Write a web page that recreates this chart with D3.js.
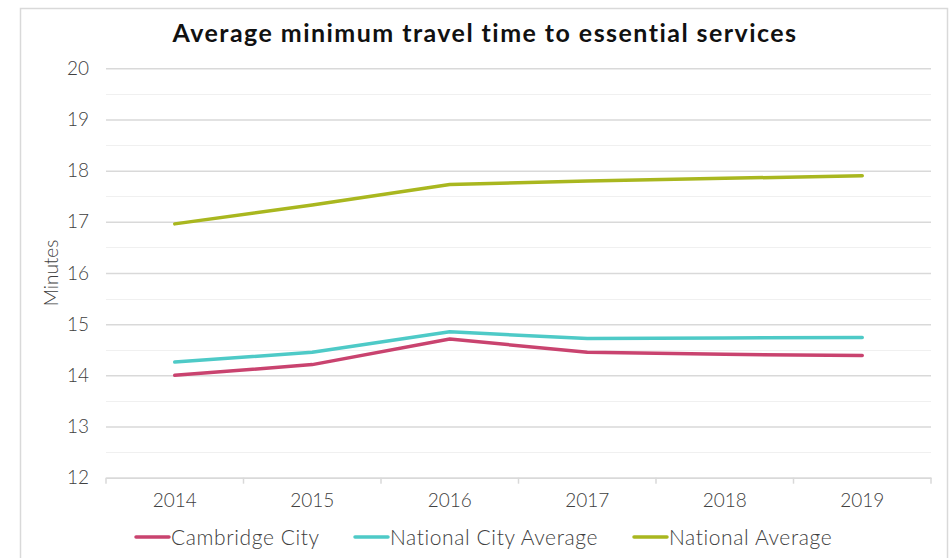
<!DOCTYPE html>
<html><head><meta charset="utf-8">
<script src="https://cdn.jsdelivr.net/npm/d3@7"></script>
<style>
body{margin:0;background:#fff;}
svg{display:block;font-family:"Lato","Open Sans",sans-serif;}
.thin{font-family:"Lato Light","Lato","Open Sans",sans-serif;font-weight:300;}
</style></head>
<body><svg id="c" width="950" height="558"></svg>
<script>
const title = "Average minimum travel time to essential services";
const yAxisLabel = "Minutes";
const years = ["2014","2015","2016","2017","2018","2019"];
const yTicks = [12,13,14,15,16,17,18,19,20];
const seriesNames = ["Cambridge City","National City Average","National Average"];
const seriesColors = ["#C9436F","#4ECAC7","#A9B71F"];
const cambridgeCity = [14.00,14.21,14.71,14.45,14.41,14.39];
const nationalCityAverage = [14.26,14.45,14.85,14.72,14.73,14.74];
const nationalAverage = [16.96,17.33,17.73,17.80,17.85,17.90];
const seriesValues = [cambridgeCity, nationalCityAverage, nationalAverage];

const svg = d3.select("#c");
svg.append("rect").attr("x",20.5).attr("y",8.5).attr("width",927).attr("height",560)
  .attr("fill","#fff").attr("stroke","#d9d9d9").attr("stroke-width",1.5);

const L=106, R=931, T=68.3, B=477.7;
const x = d3.scaleBand().domain(years).range([L,R]);
const y = d3.scaleLinear().domain([12,20]).range([B,T]);

const minor = d3.range(12.5,20,1);
svg.append("g").selectAll("line").data(minor).join("line")
  .attr("x1",L).attr("x2",R).attr("y1",d=>Math.round(y(d))+0.5).attr("y2",d=>Math.round(y(d))+0.5)
  .attr("stroke","#f0f0f0").attr("stroke-width",1.2);

const yAxis = d3.axisLeft(y).tickValues(yTicks).tickSize(-(R-L)).tickPadding(17).tickFormat(d3.format("d"));
const gy = svg.append("g").attr("transform",`translate(${L},0)`).call(yAxis);
gy.select(".domain").remove();
gy.selectAll(".tick line").attr("stroke","#d9d9d9").attr("stroke-width",1.5);
gy.selectAll(".tick text").attr("class","thin").attr("fill","#404040").style("font-size","19px");

const xAxis = d3.axisBottom(x).tickSize(0).tickPadding(16);
const gx = svg.append("g").attr("transform",`translate(0,${B})`).call(xAxis);
gx.select(".domain").attr("stroke","#d9d9d9").attr("stroke-width",1.5);
gx.selectAll(".tick text").attr("class","thin").attr("fill","#404040").style("font-size","19px");
const bounds = years.map(d=>x(d)).concat([R]);
gx.append("g").selectAll("line").data(bounds).join("line")
  .attr("x1",d=>d).attr("x2",d=>d).attr("y1",0).attr("y2",6)
  .attr("stroke","#d9d9d9").attr("stroke-width",1.5);

const line = d3.line().x((d,i)=>x(years[i])+x.bandwidth()/2).y(d=>y(d));
svg.append("g").selectAll("path").data(seriesValues).join("path")
  .attr("d",d=>line(d)).attr("fill","none")
  .attr("stroke",(d,i)=>seriesColors[i]).attr("stroke-width",3.5)
  .attr("stroke-linecap","round").attr("stroke-linejoin","round");

svg.append("text").attr("x",485).attr("y",42).attr("text-anchor","middle")
  .style("font-size","25px").style("font-weight","700").style("letter-spacing","1.45px").attr("fill","#111")
  .text(title);

svg.append("text").attr("class","thin").attr("transform","translate(58,273) rotate(-90)").attr("text-anchor","middle")
  .style("font-size","19px").attr("fill","#404040").text(yAxisLabel);

const legX = [136,355,634];
const lg = svg.append("g").selectAll("g").data(seriesNames).join("g")
  .attr("transform",(d,i)=>`translate(${legX[i]},537)`);
lg.append("line").attr("x1",0).attr("x2",33).attr("y1",0).attr("y2",0)
  .attr("stroke",(d,i)=>seriesColors[i]).attr("stroke-width",3.5).attr("stroke-linecap","round");
lg.append("text").attr("class","thin").attr("x",35).attr("y",7.5).style("font-size","21px").style("letter-spacing","0.6px")
  .attr("fill","#404040").text(d=>d);
</script></body></html>
